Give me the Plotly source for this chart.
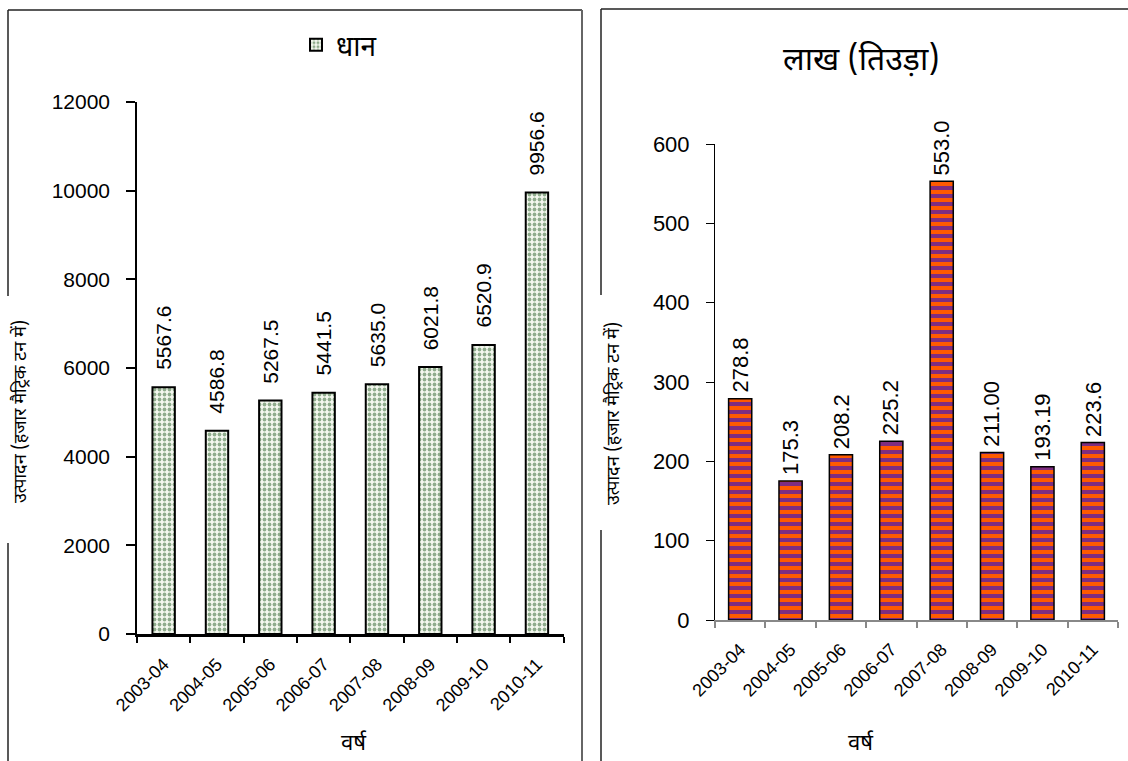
import plotly.graph_objects as go

# Year labels shared by both charts
years = ["2003-04", "2004-05", "2005-06", "2006-07",
         "2007-08", "2008-09", "2009-10", "2010-11"]

# Paddy (धान) production, thousand metric tonnes
paddy_labels = ["5567.6", "4586.8", "5267.5", "5441.5",
                "5635.0", "6021.8", "6520.9", "9956.6"]
paddy_values = [float(v) for v in paddy_labels]

# Lac (लाख तिउड़ा) production
lac_labels = ["278.8", "175.3", "208.2", "225.2",
              "553.0", "211.00", "193.19", "223.6"]
lac_values = [float(v) for v in lac_labels]

paddy_ticks = [0, 2000, 4000, 6000, 8000, 10000, 12000]
lac_ticks = [0, 100, 200, 300, 400, 500, 600]

W, H = 1128, 761
ARIAL = "Liberation Sans, Arial, sans-serif"
DEVA = "Noto Sans Devanagari, Lohit Devanagari, Noto Sans, FreeSans, sans-serif"


def px_x(p):
    return p / W


def px_y(p):
    return 1 - p / H


fig = go.Figure()

fig.add_trace(go.Bar(
    x=years, y=paddy_values, name="धान", xaxis="x", yaxis="y",
    width=0.42,
    marker=dict(
        color="white",
        line=dict(color="black", width=2),
        pattern=dict(shape=".", fgcolor="#2a5f2a", bgcolor="#f4f8ef",
                     size=5, solidity=0.45),
    ),
    showlegend=True,
))

fig.add_trace(go.Bar(
    x=years, y=lac_values, name="लाख (तिउड़ा)", xaxis="x2", yaxis="y2",
    width=0.46,
    marker=dict(
        color="#ff5a00",
        line=dict(color="black", width=1.5),
        pattern=dict(shape="-", fgcolor="#0000ff", bgcolor="#ff5a00",
                     size=8, solidity=0.5),
    ),
    showlegend=False,
))

annotations = []
for yr, v, lab in zip(years, paddy_values, paddy_labels):
    annotations.append(dict(
        x=yr, y=v, xref="x", yref="y", text=lab, textangle=-90,
        showarrow=False, xanchor="center", yanchor="bottom", yshift=15,
        font=dict(family=ARIAL, size=21, color="black")))
for yr, v, lab in zip(years, lac_values, lac_labels):
    annotations.append(dict(
        x=yr, y=v, xref="x2", yref="y2", text=lab, textangle=-90,
        showarrow=False, xanchor="center", yanchor="bottom", yshift=4,
        font=dict(family=ARIAL, size=22, color="black")))


def label(x, y, text, size, angle=0):
    return dict(x=px_x(x), y=px_y(y), xref="paper", yref="paper",
                xanchor="center", yanchor="middle", text=text,
                textangle=angle, showarrow=False,
                font=dict(family=DEVA, size=size, color="black"))


# Chart title and axis titles
annotations += [
    label(861, 62, "लाख (तिउड़ा)", 32),
    label(21, 412, "उत्पादन (हजार मैट्रिक टन में)", 18, -90),
    label(614, 414, "उत्पादन (हजार मैट्रिक टन में)", 18, -90),
    label(354, 744, "वर्ष", 22),
    label(861, 744, "वर्ष", 22),
]

# Panel frames (left edges are broken where the axis titles sit)
shapes = []


def seg(x0, y0, x1, y1, color, width):
    shapes.append(dict(type="line", xref="paper", yref="paper",
                       x0=px_x(x0), y0=px_y(y0), x1=px_x(x1), y1=px_y(y1),
                       line=dict(color=color, width=width)))


seg(8, 10, 582, 10, "#222", 1.5)
seg(582, 10, 582, 761, "#666", 2)
seg(8, 10, 8, 296, "#222", 1.5)
seg(8, 543, 8, 761, "#222", 1.5)
seg(601, 9, 1128, 9, "#222", 1.5)
seg(601, 9, 601, 295, "#222", 1.5)
seg(601, 530, 601, 761, "#222", 1.5)

fig.update_layout(
    width=W, height=H,
    margin=dict(l=0, r=0, t=0, b=0, autoexpand=False),
    paper_bgcolor="white", plot_bgcolor="white",
    font=dict(family=ARIAL, color="black"),
    annotations=annotations,
    shapes=shapes,
    legend=dict(x=px_x(296), y=px_y(20), xanchor="left", yanchor="top",
                orientation="h", bgcolor="rgba(0,0,0,0)",
                font=dict(family=DEVA, size=28, color="black"),
                itemwidth=30),
    xaxis=dict(domain=[px_x(137), px_x(563.6)], anchor="y",
               type="category", tickangle=-45, tickson="boundaries",
               ticks="outside", ticklen=6, tickcolor="black", tickwidth=1.5,
               showline=True, linecolor="black", linewidth=2.5,
               showgrid=False, zeroline=False, automargin=False,
               ticklabelstandoff=10,
               tickfont=dict(family=ARIAL, size=18)),
    yaxis=dict(domain=[px_y(634), px_y(102)], anchor="x",
               range=[0, 12000], tickvals=paddy_ticks, tickformat="d",
               ticks="outside", ticklen=9, tickcolor="black", tickwidth=1.5,
               showline=True, linecolor="black", linewidth=1.5,
               showgrid=False, zeroline=False, ticklabelstandoff=12,
               automargin=False, tickfont=dict(family=ARIAL, size=21)),
    xaxis2=dict(domain=[px_x(715), px_x(1118)], anchor="y2",
                type="category", tickangle=-45, tickson="boundaries",
                ticks="outside", ticklen=6, tickcolor="#888", tickwidth=1.5,
                showline=True, linecolor="#888", linewidth=2,
                showgrid=False, zeroline=False, automargin=False,
                ticklabelstandoff=10,
                tickfont=dict(family=ARIAL, size=18)),
    yaxis2=dict(domain=[px_y(620), px_y(144)], anchor="x2",
                range=[0, 600], tickvals=lac_ticks, tickformat="d",
                ticks="outside", ticklen=8, tickcolor="black", tickwidth=1,
                showline=True, linecolor="black", linewidth=1,
                showgrid=False, zeroline=False, ticklabelstandoff=12,
                automargin=False, tickfont=dict(family=ARIAL, size=22)),
)

# Let the figure sit flush against the page edges
fig.write_html("out.html",
               post_script="document.body.style.margin='0';")
